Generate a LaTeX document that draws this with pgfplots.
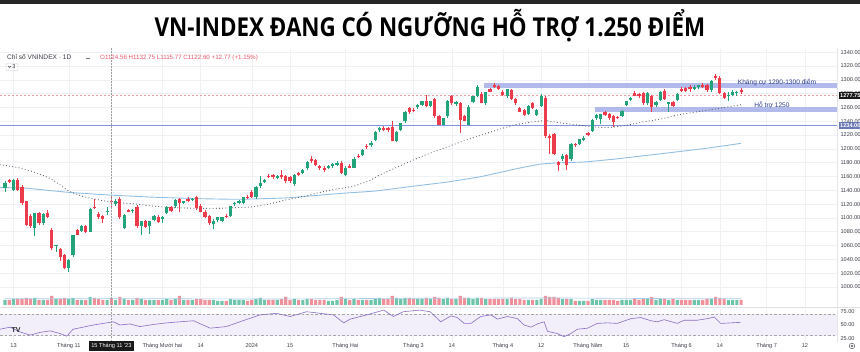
\documentclass[border=0pt]{standalone}
\usepackage{fontspec}
\setmainfont{Liberation Sans}
\newfontfamily\titlefont{Open Sans}
\usepackage{pgfplots}
\usepackage{pgfplotstable}
\pgfplotsset{compat=1.18}
\definecolor{upc}{HTML}{22A37A}
\definecolor{dnc}{HTML}{EC3B4B}
\definecolor{upv}{HTML}{6FC4AC}
\definecolor{dnv}{HTML}{F0909B}
\definecolor{gridc}{HTML}{F0F1F5}
\definecolor{bandc}{HTML}{A9B3E8}
\definecolor{lvl}{HTML}{8396E0}
\definecolor{navy}{HTML}{2E3F8F}
\definecolor{ma1}{HTML}{4A4D57}
\definecolor{ma2}{HTML}{93C0E2}
\definecolor{rsic}{HTML}{8A6CC4}
\definecolor{rsif}{HTML}{F3EFFA}
\definecolor{lblc}{HTML}{3B3E46}
\definecolor{ohlc}{HTML}{E8576B}
\definecolor{pinkl}{HTML}{F29CA6}

\pgfplotstableread{
i o h l c v
0 1144 1153 1138 1151 5
1 1155 1157 1150 1152 5
2 1141 1156 1139 1155 6
3 1155 1158 1139 1141 6
4 1145 1147 1119 1121 6
5 1124 1125 1088 1090 7
6 1103 1105 1086 1088 6
7 1086 1107 1074 1107 7
8 1107 1108 1090 1093 5
9 1093 1107 1090 1106 5
10 1107 1112 1100 1101 5
11 1083 1085 1054 1056 9
12 1059 1061 1051 1061 6
13 1055 1057 1038 1043 6
14 1046 1048 1026 1027 7
15 1028 1040 1022 1039 6
16 1046 1076 1044 1075 7
17 1082 1084 1075 1076 5
18 1081 1090 1079 1089 5
19 1089 1090 1078 1080 5
20 1080 1114 1079 1113 8
21 1116 1127 1113 1114 7
22 1106 1108 1098 1101 6
23 1103 1104 1093 1098 5
24 1108 1116 1104 1110 5
25 1124.56 1132.75 1115.77 1122.60 7
26 1120 1127 1118 1125 5
27 1128 1131 1099 1101 8
28 1086 1105 1084 1104 6
29 1111 1113 1108 1109 5
30 1110 1113 1107 1112 5
31 1116 1119 1086 1088 7
32 1088 1096 1075 1095 6
33 1096 1097 1086 1087 5
34 1088 1096 1077 1095 5
35 1097 1104 1095 1103 5
36 1101 1104 1093 1094 5
37 1099 1103 1092 1101 5
38 1107 1118 1105 1116 6
39 1116 1118 1109 1110 5
40 1117 1127 1115 1126 6
41 1128 1129 1109 1122 9
42 1122 1125 1120 1124 5
43 1127 1130 1123 1125 5
44 1126 1129 1124 1128 5
45 1130 1132 1112 1114 6
46 1118 1120 1108 1109 6
47 1109 1111 1100 1102 5
48 1103 1104 1090 1093 5
49 1091 1098 1084 1096 5
50 1097 1102 1094 1101 4
51 1096 1102 1094 1102 4
52 1103 1105 1100 1101 4
53 1103 1118 1102 1117 6
54 1120 1123 1118 1122 5
55 1122 1126 1120 1125 5
56 1122 1131 1120 1130 5
57 1130 1133 1127 1129 4
58 1138 1141 1129 1131 5
59 1130 1146 1128 1145 6
60 1146 1160 1144 1151 7
61 1152 1157 1150 1155 5
62 1161 1163 1158 1159 5
63 1162 1164 1157 1159 5
64 1158 1162 1156 1161 5
65 1162 1169 1157 1159 6
66 1160 1162 1150 1153 8
67 1159 1161 1150 1154 5
68 1149 1164 1146 1162 6
69 1165 1167 1161 1162 5
70 1165 1171 1163 1170 5
71 1172 1183 1170 1181 6
72 1186 1189 1180 1182 6
73 1184 1186 1175 1177 5
74 1175 1177 1170 1172 5
75 1173 1175 1167 1170 5
76 1173 1176 1171 1175 4
77 1175 1180 1173 1178 4
78 1177 1182 1175 1180 5
79 1180 1182 1163 1165 8
80 1162 1175 1160 1173 6
81 1175 1178 1172 1173 5
82 1173 1188 1172 1186 6
83 1190 1193 1187 1188 5
84 1191 1200 1189 1198 5
85 1204 1207 1200 1202 5
86 1205 1212 1203 1209 5
87 1213 1226 1211 1225 6
88 1227 1232 1224 1230 7
89 1230 1233 1226 1228 6
90 1230 1232 1224 1227 6
91 1231 1240 1211 1212 9
92 1212 1226 1210 1225 7
93 1228 1238 1226 1237 6
94 1240 1255 1238 1254 7
95 1259 1261 1251 1253 7
96 1257 1259 1254 1256 6
97 1260 1265 1258 1264 6
98 1264 1270 1262 1269 6
99 1270 1278 1261 1262 7
100 1262 1270 1260 1269 6
101 1272 1274 1245 1247 8
102 1248 1249 1234 1235 7
103 1235 1245 1234 1244 6
104 1247 1271 1245 1270 7
105 1276 1278 1264 1266 6
106 1265 1270 1262 1268 6
107 1266 1268 1223 1242 9
108 1247 1249 1240 1241 7
109 1235 1263 1234 1261 7
110 1268 1277 1266 1276 6
111 1277 1293 1275 1289 7
112 1280 1283 1266 1266 7
113 1266 1283 1264 1282 6
114 1286 1288 1282 1282 6
115 1293 1295 1288 1289 6
116 1291 1292 1285 1286 6
117 1283 1285 1277 1278 6
118 1276 1287 1274 1286 6
119 1285 1287 1271 1272 7
120 1272 1273 1264 1266 6
121 1259 1261 1253 1254 6
122 1256 1258 1248 1249 5
123 1250 1263 1249 1262 5
124 1266 1268 1258 1259 5
125 1249 1258 1247 1257 5
126 1262 1279 1260 1277 6
127 1273 1276 1216 1218 9
128 1218 1222 1193 1216 8
129 1221 1223 1191 1193 8
130 1181 1183 1168 1176 7
131 1186 1192 1183 1190 6
132 1191 1193 1169 1177 6
133 1185 1208 1183 1207 6
134 1207 1209 1203 1205 4
135 1207 1215 1205 1214 4
136 1213 1218 1211 1216 4
137 1223 1225 1219 1220 4
138 1226 1243 1224 1242 6
139 1244 1250 1242 1249 5
140 1243 1251 1236 1250 5
141 1253 1255 1248 1249 5
142 1250 1252 1242 1244 5
143 1247 1249 1232 1239 5
144 1246 1248 1243 1245 4
145 1248 1256 1246 1255 5
146 1264 1270 1262 1269 5
147 1271 1275 1269 1273 5
148 1281 1284 1276 1277 6
149 1279 1281 1273 1276 5
150 1281 1283 1264 1266 6
151 1266 1283 1264 1281 6
152 1276 1278 1254 1261 8
153 1263 1270 1261 1268 5
154 1271 1284 1269 1282 6
155 1284 1286 1271 1272 6
156 1265 1268 1254 1268 5
157 1268 1270 1260 1262 6
158 1271 1281 1269 1279 5
159 1287 1289 1282 1284 5
160 1288 1290 1282 1284 5
161 1290 1292 1283 1286 5
162 1287 1292 1285 1290 5
163 1289 1293 1287 1292 5
164 1293 1295 1288 1289 5
165 1292 1294 1283 1285 6
166 1285 1300 1283 1298 6
167 1305 1308 1300 1302 8
168 1303 1305 1279 1281 7
169 1281 1283 1272 1274 6
170 1277 1283 1270 1278 5
171 1278 1285 1276 1283 5
172 1281 1284 1277 1281.5 5
173 1285 1288 1279 1282 5
}\candles

\tikzset{
  rlbl/.style={font=\fontsize{5.6}{6}\selectfont, text=lblc, anchor=west,
    /pgf/number format/.cd, fixed, fixed zerofill, precision=2, 1000 sep={},
    assume math mode=true},
  dlbl/.style={font=\fontsize{5.6}{6}\selectfont, text=lblc, inner sep=0.5pt},
}
\pgfplotsset{
  pane/.style={scale only axis, anchor=south west, width=837pt,
    xmin=-1.175, xmax=195.53, axis line style={draw=none},
    major tick length=0pt,
    xtick={2,15,25,37,46,58,67,80,96,105,117,126,137,146,159,168,179,188},
    xticklabels={}, xmajorgrids, major grid style={gridc, line width=0.5pt},
    clip=false},
  cndl/.style={only marks, mark=*, mark size=0pt, mark options={draw=none, fill=none},
    restrict y to domain=0:5000},
}

\begin{document}
\begin{tikzpicture}[x=1pt,y=1pt]
\useasboundingbox (0,0) rectangle (860,351);
\fill[white] (0,0) rectangle (860,351);
\fill[black!85] (0,346.5) rectangle (860,351);
\node[anchor=base, xscale=0.86, inner sep=0] at (430,314)
  {\titlefont\bfseries\fontsize{26}{26}\selectfont VN-INDEX ĐANG CÓ NGƯỠNG HỖ TRỢ 1.250 ĐIỂM};

% ---------- main price pane ----------
\begin{axis}[pane, at={(0pt,44pt)}, height=258pt, ymin=971.04, ymax=1344.6,
  ytick={1000,1020,...,1340}, ymajorgrids, yticklabel pos=right,
  yticklabel style={rlbl}]
  \fill[bandc, opacity=0.9] (axis cs:112.6,1288) rectangle (axis cs:195.53,1295.5);
  \fill[bandc, opacity=0.9] (axis cs:138.7,1253.5) rectangle (axis cs:195.53,1260.5);
  \draw[lvl, line width=0.8pt] (axis cs:-1.175,1234) -- (axis cs:195.53,1234);
  \draw[pinkl, line width=0.6pt, dash pattern=on 2pt off 2pt] (axis cs:-1.175,1277.75) -- (axis cs:195.53,1277.75);
  \addplot[ma2, line width=0.9pt, smooth, tension=0.3] coordinates {
    (-1.17,1144) (5,1143) (15,1137) (25,1133) (35,1130) (45,1128) (55,1127)
    (66,1129) (74,1133) (80,1136) (87,1139) (96,1146) (104,1152) (112,1160)
    (120,1171) (126,1178) (131,1180) (136,1181) (143,1185) (150,1190)
    (157,1195) (165,1201) (173,1208)};
  \addplot[ma1, line width=1.1pt, line cap=round, dash pattern=on 0pt off 3.2pt, smooth, tension=0.3] coordinates {
    (-1.17,1177) (3,1173) (7,1166) (11,1156) (15,1139) (19,1130) (23,1125)
    (27,1122) (31,1120) (35,1117) (39,1115) (45,1114) (50,1114) (55,1115)
    (58,1116) (62,1120) (66,1126) (70,1131) (74,1137) (78,1142) (82,1146)
    (86,1155) (88,1162) (92,1173) (96,1184) (100,1194) (104,1203) (108,1212)
    (112,1220) (116,1228) (120,1235) (124,1239) (127,1241) (130,1238)
    (134,1235) (138,1232) (142,1231) (146,1234) (150,1239) (154,1243)
    (158,1249) (162,1253) (166,1257) (170,1261) (173,1264)};
  \addplot[cndl, error bars/.cd, y dir=plus, y explicit, error mark=none,
    error bar style={draw=upc, line width=0.8pt}]
    table[x=i, y expr={\thisrow{c}<\thisrow{o} ? -4000 : \thisrow{l}},
      y error plus expr={\thisrow{h}-\thisrow{l}}] {\candles};
  \addplot[cndl, error bars/.cd, y dir=plus, y explicit, error mark=none,
    error bar style={draw=dnc, line width=0.8pt}]
    table[x=i, y expr={\thisrow{c}<\thisrow{o} ? \thisrow{l} : -4000},
      y error plus expr={\thisrow{h}-\thisrow{l}}] {\candles};
  \addplot[cndl, error bars/.cd, y dir=plus, y explicit, error mark=none,
    error bar style={draw=upc, line width=3.2pt}]
    table[x=i, y expr={\thisrow{c}<\thisrow{o} ? -4000 : min(\thisrow{o},\thisrow{c})},
      y error plus expr={max(abs(\thisrow{c}-\thisrow{o}),0.9)}] {\candles};
  \addplot[cndl, error bars/.cd, y dir=plus, y explicit, error mark=none,
    error bar style={draw=dnc, line width=3.2pt}]
    table[x=i, y expr={\thisrow{c}<\thisrow{o} ? min(\thisrow{o},\thisrow{c}) : -4000},
      y error plus expr={max(abs(\thisrow{c}-\thisrow{o}),0.9)}] {\candles};
\end{axis}

% ---------- volume ----------
\begin{axis}[pane, at={(0pt,46pt)}, height=12pt, ymin=0, ymax=12,
  xmajorgrids=false, ytick=\empty, xtick=\empty]
  \addplot[ybar, bar width=3.2pt, bar shift=0pt, fill=upv, draw=none,
    restrict y to domain=0:100]
    table[x=i, y expr={\thisrow{c}<\thisrow{o} ? -50 : \thisrow{v}}] {\candles};
  \addplot[ybar, bar width=3.2pt, bar shift=0pt, fill=dnv, draw=none,
    restrict y to domain=0:100]
    table[x=i, y expr={\thisrow{c}<\thisrow{o} ? \thisrow{v} : -50}] {\candles};
  \addplot[ma2!80, line width=0.6pt, smooth] coordinates {
    (0,6.2) (30,6.4) (60,6.0) (90,6.6) (110,6.9) (130,7.0) (150,6.5) (173,6.3)};
\end{axis}

\draw[gray!25, line width=0.5pt] (0,43.5) -- (860,43.5);
\draw[gray!20, line width=0.5pt] (837,9) -- (837,303);

% ---------- RSI ----------
\begin{axis}[pane, at={(0pt,9pt)}, height=33pt, ymin=18.0, ymax=80.1,
  ytick={25,50,75}, yticklabel pos=right, yticklabel style={rlbl}]
  \fill[rsif] (axis cs:-1.175,30) rectangle (axis cs:195.53,70);
  \draw[gray!70, line width=0.5pt, dash pattern=on 2.5pt off 2pt] (axis cs:-1.175,70) -- (axis cs:195.53,70);
  \draw[gray!70, line width=0.5pt, dash pattern=on 2.5pt off 2pt] (axis cs:-1.175,30) -- (axis cs:195.53,30);
  \addplot[rsic, line width=0.6pt] coordinates {
    (-1.17,42) (1.2,46) (3.5,37) (5.9,31) (8.2,36) (10.6,39) (12.9,34) (14.5,29)
    (16,42) (18.4,46) (20.8,50) (23.1,53) (25.5,56) (27,50) (29.4,52) (31.7,47)
    (34.9,51) (38,54) (41.1,56) (44.3,58) (48.2,44) (52,47) (55.2,56) (59.9,69)
    (63.8,72) (67,66) (70.9,75) (74,72) (77.2,69) (79.6,54) (81.1,61) (85,69)
    (89,78) (91.3,66) (93.6,75) (97.5,78) (99.9,75) (102.4,56) (104.8,67)
    (106.3,64) (107.9,53) (109.5,53) (111.8,66) (114.2,69) (115.7,61) (118.1,66)
    (120.4,62) (122,50) (123.6,46) (125.1,52) (126.7,56) (127.5,38) (129.8,34)
    (131.4,28) (133,34) (134.5,42) (136.9,44) (139.2,53) (141.6,54) (143.9,53)
    (147.1,62) (149.4,64) (151.8,58) (153.3,56) (154.9,60) (158,53) (159.6,59)
    (162.7,59) (165.1,62) (166.7,65) (168.2,53) (170.6,54) (172.9,55)};
  \node[dlbl] at (axis cs:2,10.5) {13};
  \node[dlbl] at (axis cs:15,10.5) {Tháng 11};
  \node[dlbl] at (axis cs:37,10.5) {Tháng Mười hai};
  \node[dlbl] at (axis cs:46,10.5) {14};
  \node[dlbl] at (axis cs:58,10.5) {2024};
  \node[dlbl] at (axis cs:67,10.5) {15};
  \node[dlbl] at (axis cs:80,10.5) {Tháng Hai};
  \node[dlbl] at (axis cs:96,10.5) {Tháng 3};
  \node[dlbl] at (axis cs:105,10.5) {14};
  \node[dlbl] at (axis cs:117,10.5) {Tháng 4};
  \node[dlbl] at (axis cs:126,10.5) {12};
  \node[dlbl] at (axis cs:137,10.5) {Tháng Năm};
  \node[dlbl] at (axis cs:146,10.5) {15};
  \node[dlbl] at (axis cs:159,10.5) {Tháng 6};
  \node[dlbl] at (axis cs:168,10.5) {14};
  \node[dlbl] at (axis cs:179,10.5) {Tháng 7};
  \node[dlbl] at (axis cs:188,10.5) {12};
\end{axis}

\draw[gray!75, line width=0.5pt, dash pattern=on 1.5pt off 1.5pt] (111.4,10) -- (111.4,303);
\node[fill=black!90, text=white, font=\fontsize{5.6}{6}\selectfont, inner xsep=2.5pt, inner ysep=2pt] at (111.4,5) {15 Tháng 11 '23};

\node[fill=black!90, text=white, font=\fontsize{5.6}{6}\selectfont\bfseries, anchor=west, inner sep=1.5pt] at (838.5,255.9) {1277.75};
\node[fill=lvl!80!black, text=white, font=\fontsize{5.6}{6}\selectfont\bfseries, anchor=west, inner sep=1.5pt] at (838.5,225.6) {1234.00};

\node[text=navy, font=\fontsize{6.6}{7}\selectfont, anchor=base] at (777,266) {Kháng cự 1290-1300 điểm};
\node[text=navy, font=\fontsize{6.6}{7}\selectfont, anchor=base] at (772,243.5) {Hỗ trợ 1250};

\node[anchor=base west, font=\fontsize{6.6}{7}\selectfont, text=lblc, inner sep=0] at (7,291) {Chỉ số VNINDEX · 1D};
\draw[lblc!70, line width=0.6pt] (86,293) -- (90,293);
\node[anchor=base west, font=\fontsize{6.2}{7}\selectfont, text=ohlc, inner sep=0] at (100,291) {O1124.56 H1132.75 L1115.77 C1122.60 +12.77 (+1.15\%)};
\draw[gray!40, rounded corners=1pt, line width=0.4pt] (6,280.5) rectangle (18,287.5);
\draw[lblc, line width=0.5pt] (8.3,285) -- (9.6,283.6) -- (10.9,285);
\node[anchor=base west, font=\fontsize{5.5}{6}\selectfont, text=lblc, inner sep=0] at (12.2,282) {3};

\node[font=\fontsize{7}{7}\selectfont\bfseries, text=black!85, inner sep=0] at (16,21) {TV};
\draw[lblc!80, line width=0.5pt] (852,5) circle (2.8pt);
\draw[lblc!80, line width=0.5pt] (852,5) circle (1pt);
\end{tikzpicture}
\end{document}
